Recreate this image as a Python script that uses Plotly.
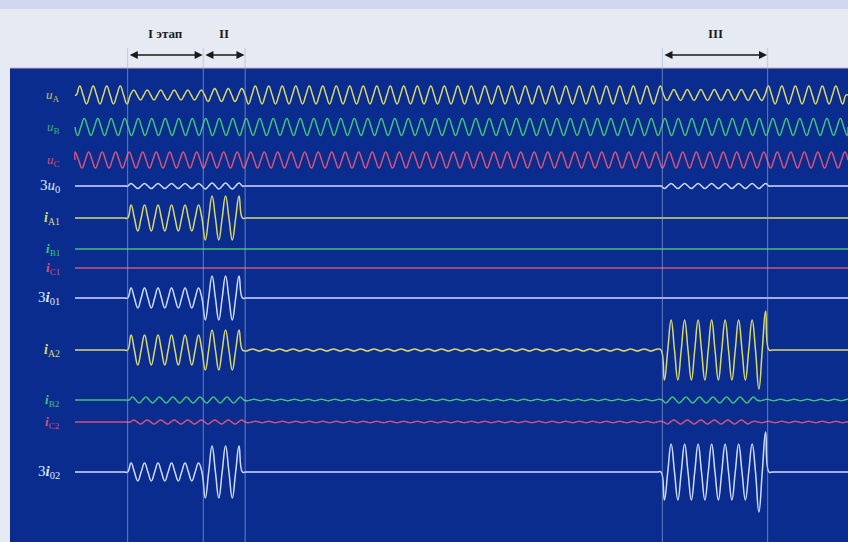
import numpy as np
import plotly.graph_objects as go

# ---------------- data ----------------
# time in ms, 50 Hz -> period 20 ms
PERIOD_MS = 20.0
T_END = 1145.0
# stage boundaries: I start, I end / II start, II end, III start, III last cycle, III end
stage_bounds = [78, 190, 252, 870, 1006, 1026]
# segments: pre, I, II, between, III, III-last, post
segment_names = ["pre", "I", "II", "mid", "III", "III_last", "post"]

channels = ["uA", "uB", "uC", "3u0", "iA1", "iB1", "iC1", "3i01", "iA2", "iB2", "iC2", "3i02"]
channel_labels = [
    "<i>u</i><sub>A</sub>", "<i>u</i><sub>B</sub>", "<i>u</i><sub>C</sub>",
    "3<i>u</i><sub>0</sub>", "<b><i>i</i></b><sub>A1</sub>", "<b><i>i</i></b><sub>B1</sub>",
    "<b><i>i</i></b><sub>C1</sub>", "3<b><i>i</i></b><sub>01</sub>", "<b><i>i</i></b><sub>A2</sub>",
    "<b><i>i</i></b><sub>B2</sub>", "<b><i>i</i></b><sub>C2</sub>", "3<b><i>i</i></b><sub>02</sub>",
]
# amplitude (in display divisions) per segment
amp_uA = [9, 5, 6.5, 9, 5.5, 5.5, 9]
amp_uB = [8.5, 8.5, 8.5, 8.5, 8.5, 8.5, 8.5]
amp_uC = [8, 8, 8, 8, 8, 8, 8]
amp_3u0 = [0, 2.5, 3, 0, 2.5, 2.5, 0]
amp_iA1 = [0, 13, 22, 0, 0, 0, 0]
amp_iB1 = [0, 0, 0, 0, 0, 0, 0]
amp_iC1 = [0, 0, 0, 0, 0, 0, 0]
amp_3i01 = [0, 10, 22, 0, 0, 0, 0]
amp_iA2 = [0, 15, 20, 1, 30, 39, 0]
amp_iB2 = [0, 3, 3, 0.8, 3, 0.8, 0.8]
amp_iC2 = [0, 2, 2, 0.8, 2, 0.8, 0.8]
amp_3i02 = [0, 9, 26, 0, 28, 40, 0]
amplitudes = [amp_uA, amp_uB, amp_uC, amp_3u0, amp_iA1, amp_iB1, amp_iC1,
              amp_3i01, amp_iA2, amp_iB2, amp_iC2, amp_3i02]
# time of an upward zero crossing (phase reference), ms
phase_ref = [2, 8.7, 15.3, 78, 78, 78, 78, 78, 78, 80, 82, 78]

stage_texts = ["I этап", "II", "III"]
stage_spans = [(78, 190), (190, 252), (870, 1026)]

# ---------------- layout constants ----------------
offsets = [95, 127, 160, 186, 218, 249, 268, 298, 350, 400, 422, 472]
YELLOW = "#d9d86a"
GREEN = "#3fc27a"
RED = "#d4537a"
WHITE = "#cfdcff"
colors = [YELLOW, GREEN, RED, WHITE, YELLOW, GREEN, RED, WHITE, YELLOW, GREEN, RED, WHITE]
label_colors = ["#c9c24a", "#3fb06a", "#d4537a", "#dfe6ff", "#d9d86a", "#3fc27a",
                "#d4537a", "#dfe6ff", "#d9d86a", "#3fc27a", "#d4537a", "#dfe6ff"]
label_sizes = [13, 13, 13, 15, 14, 13, 13, 15, 14, 13, 13, 15]

X0 = -111.1   # ms at left edge of the picture
PLOT_LEFT = -96.3
BG = "#e6ebf3"
PANEL = "#0b2c8f"


def seg_index(t):
    return int(np.searchsorted(stage_bounds, t, side="right"))


def waveform(amps, ref):
    step = PERIOD_MS / 4.0
    jmin = int(np.ceil((0 - ref) / step))
    jmax = int(np.floor((T_END - ref) / step))
    pattern = [0, 1, 0, -1]
    ts = [0.0]
    vs = [0.0]
    for j in range(jmin, jmax + 1):
        t = ref + j * step
        if t <= 0:
            continue
        a = amps[seg_index(t)]
        ts.append(t)
        vs.append(pattern[j % 4] * a)
    ts.append(T_END)
    vs.append(0.0)
    return np.array(ts), np.array(vs)


fig = go.Figure()

shapes = [
    dict(type="rect", xref="x", yref="y", x0=X0, x1=T_END, y0=0, y1=9,
         fillcolor="rgba(190,196,236,0.55)", line_width=0, layer="below"),
    dict(type="rect", xref="x", yref="y", x0=PLOT_LEFT, x1=T_END, y0=68, y1=542,
         fillcolor=PANEL, line_width=0, layer="below"),
    dict(type="line", xref="x", yref="y", x0=PLOT_LEFT, x1=T_END, y0=68, y1=68,
         line=dict(color="#e2a3bd", width=1.2), layer="below"),
]
vlines = sorted(set([s for span in stage_spans for s in span]))
for t in vlines:
    shapes.append(dict(type="line", xref="x", yref="y", x0=t, x1=t, y0=48, y1=542,
                       line=dict(color="rgba(160,180,220,0.6)", width=1), layer="above"))

for name, amps, ref, off, col in zip(channels, amplitudes, phase_ref, offsets, colors):
    ts, vs = waveform(amps, ref)
    fig.add_trace(go.Scatter(
        x=ts, y=off - vs, mode="lines", name=name,
        line=dict(color=col, width=1.5, shape="spline", smoothing=1.3),
        hoverinfo="skip", showlegend=False))

annotations = []
for lab, off, lc, fs in zip(channel_labels, offsets, label_colors, label_sizes):
    annotations.append(dict(x=-19, y=off, xref="x", yref="y", text=lab, showarrow=False,
                            xanchor="right", yanchor="middle",
                            font=dict(family="Liberation Serif, Times New Roman, serif",
                                      size=fs, color=lc)))

for txt, (a, b) in zip(stage_texts, stage_spans):
    annotations.append(dict(x=(a + b) / 2, y=33, xref="x", yref="y", text="<b>" + txt + "</b>",
                            showarrow=False, xanchor="center", yanchor="middle",
                            font=dict(family="Liberation Serif, Times New Roman, serif",
                                      size=13, color="#1e1e1e")))
    annotations.append(dict(x=b - 1, y=55, ax=a + 1, ay=55, xref="x", yref="y",
                            axref="x", ayref="y", text="", showarrow=True,
                            arrowhead=2, arrowsize=1, arrowwidth=1.6, arrowcolor="#1a1a1a",
                            arrowside="end+start", startarrowhead=2, startarrowsize=1))

fig.update_layout(
    width=848, height=542,
    margin=dict(l=0, r=0, t=0, b=0),
    paper_bgcolor=BG, plot_bgcolor=BG,
    xaxis=dict(range=[X0, T_END], visible=False, fixedrange=True),
    yaxis=dict(range=[542, 0], visible=False, fixedrange=True),
    shapes=shapes, annotations=annotations,
)

fig.write_html("out.html", config={"displayModeBar": False},
               post_script="document.body.style.margin='0';document.body.style.overflow='hidden';")
